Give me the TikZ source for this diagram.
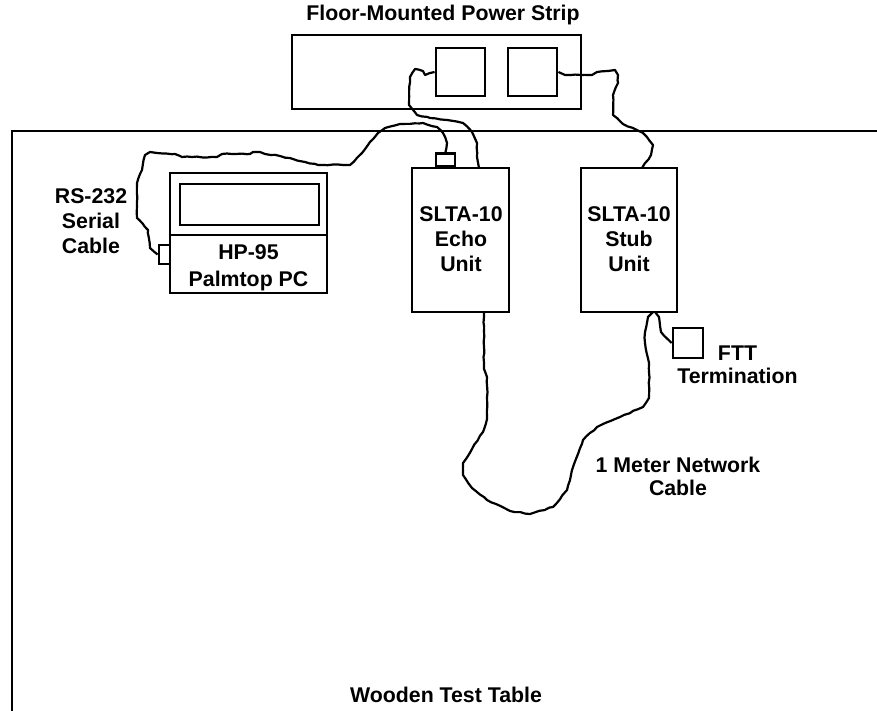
\documentclass[tikz,border=0pt]{standalone}
\usepackage{fontspec}
\setmainfont{Liberation Sans}
\usetikzlibrary{positioning,decorations.pathmorphing}
\tikzset{
  box/.style={draw,line width=2.85pt,minimum width=#1,inner sep=0pt},
  cable/.style={line width=2.2pt,line join=round,decorate,decoration={random steps,segment length=5pt,amplitude=.5pt}},
  lbl/.style={font=\fontsize{21.3}{25}\selectfont\bfseries,align=center,inner sep=0pt}
}
\begin{document}
\begin{tikzpicture}[x=1pt,y=-1pt]
    \useasboundingbox (0,0) rectangle (877,711);
    \pgfmathsetseed{7}

    % table
    \draw[line width=2.85pt] (877,131) -- (12,131) -- (12,711);
    \node[lbl] (table) at (446,695) {Wooden Test Table};

    % power strip
    \node[box=289pt,minimum height=74pt] (strip) at (436.5,72) {};
    \node[lbl] (striplabel) at (443,15) {Floor-Mounted Power Strip};
    \node[box=49pt,minimum height=48pt] (outleta) at (460.5,72) {};
    \node[box=49pt,minimum height=48pt] (outletb) at (532.5,72) {};

    % units
    \node[box=97pt,minimum height=144pt] (echo) at (460.5,240) {};
    \node[box=96pt,minimum height=144pt] (stub) at (629,240) {};
    \node[lbl] (echolabel) at (461,239) {SLTA-10\\Echo\\Unit};
    \node[lbl] (stublabel) at (629,239) {SLTA-10\\Stub\\Unit};
    \node[box=19pt,minimum height=13pt,anchor=south] (echoport) at (445.5,168) {};

    % palmtop
    \node[box=157pt,minimum height=120pt] (palm) at (248.5,233) {};
    \node[box=139pt,minimum height=41pt] (screen) at (249.5,204.5) {};
    \draw[line width=2.85pt] (palm.west |- 0,235) -- (palm.east |- 0,235);
    \node[lbl] (palmlabel) at (248.5,267.5) {HP-95\\[2pt]Palmtop PC};
    \node[box=11pt,minimum height=19pt] (palmport) at (164.5,254.5) {};
    \node[lbl] (serial) at (91,221) {RS-232\\Serial\\Cable};

    % termination
    \node[box=30pt,minimum height=30pt] (term) at (688,343) {};
    \node[lbl] (termlabel) at (737.5,364.5) {FTT\\[-2pt]Termination};
    \node[lbl] (netlabel) at (678,476.5) {1 Meter Network\\[-2pt]Cable};

    % cables
    \draw[cable] (palmport.west) -- (150,248) -- (148,230) -- (143,224) -- (137,218) -- (137,183)
      -- (142,170) -- (145,155) -- (150,152) -- (157,153) -- (175,154) -- (182,157) -- (217,157)
      -- (222,154) -- (250,154) -- (253,152) -- (260,152) -- (265,154) -- (280,156) -- (293,159)
      -- (305,162) -- (318,165) -- (350,165) -- (362,153) -- (370,142) -- (378,133) -- (385,128)
      -- (400,124) -- (423,123) -- (437,127) -- (443,133) -- (447,143) -- (echoport.north);
    \draw[cable] (outleta.west) -- (425,75) -- (423,71) -- (415,69) -- (410,77) -- (409,105)
      -- (417,115) -- (430,118) -- (447,120) -- (463,123) -- (472,132) -- (477,143) -- (477,157)
      -- (479,168);
    \draw[cable] (outletb.east) -- (565,75) -- (592,75) -- (597,72) -- (608,71) -- (615,70)
      -- (618,75) -- (618,83) -- (613,95) -- (613,115) -- (623,124) -- (643,133) -- (653,145)
      -- (651,155) -- (642,168);
    \draw[cable] (484,312) -- (484,369) -- (487,377) -- (487,419) -- (483,432) -- (473,447)
      -- (463,463) -- (463,475) -- (472,488) -- (487,500) -- (510,511) -- (530,514) -- (553,507)
      -- (567,490) -- (573,467) -- (583,440) -- (597,427) -- (620,417) -- (643,407) -- (649,398)
      -- (649,363) -- (645,343) -- (645,332) -- (648,317) -- (653,312);
    \draw[cable] (655,312) -- (659,317) -- (661,332) -- (term.west);
\end{tikzpicture}
\end{document}
